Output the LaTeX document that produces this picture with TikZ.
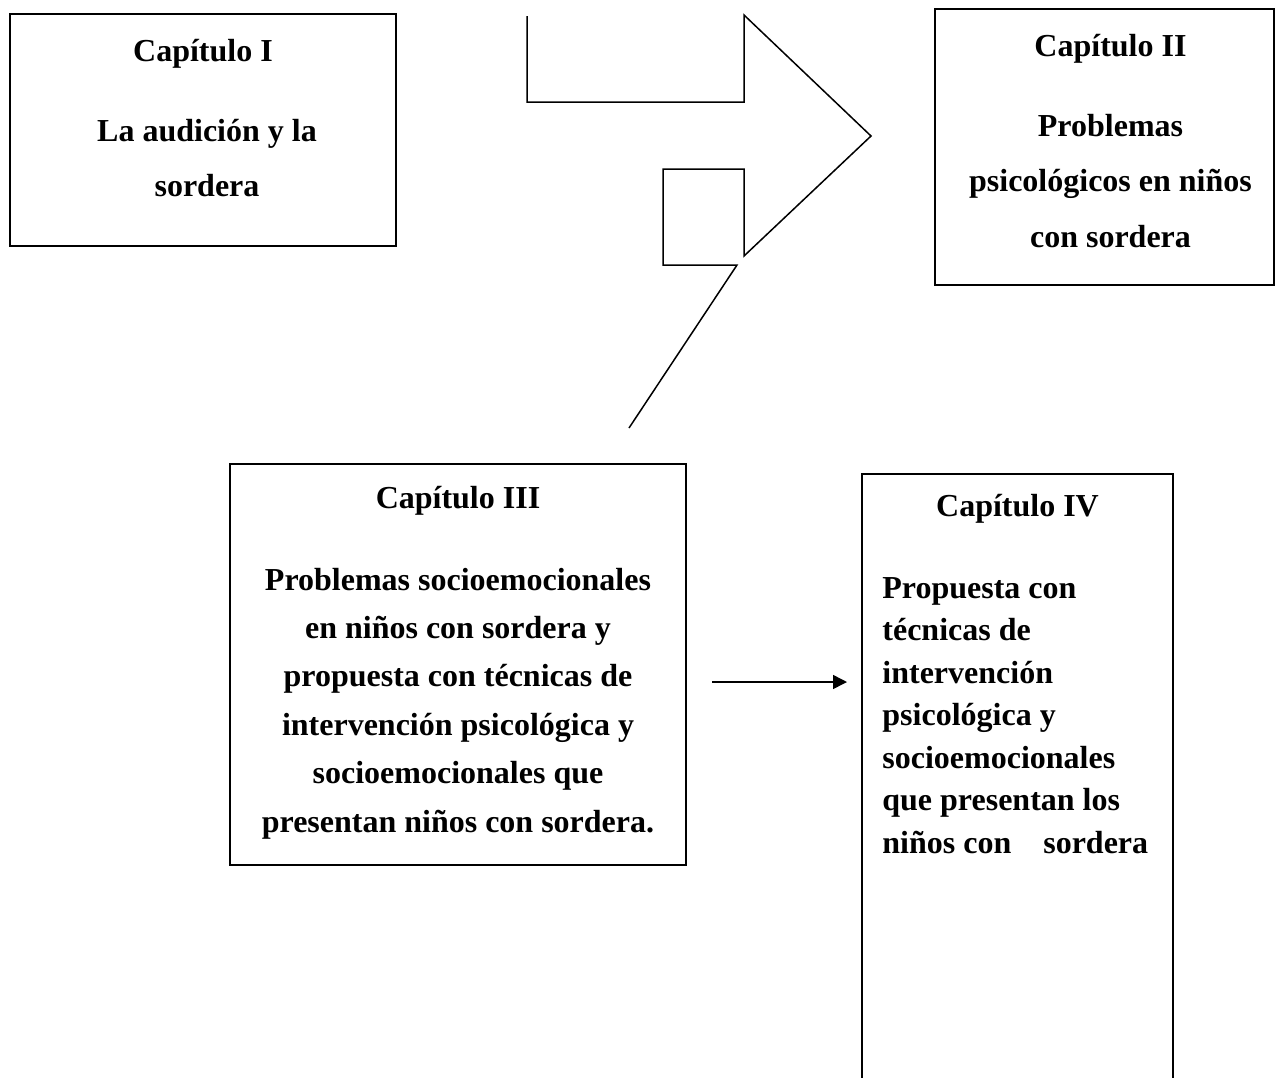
\documentclass[tikz,border=0pt]{standalone}
\usepackage{fontspec}
\setmainfont{Liberation Serif}
\usetikzlibrary{arrows.meta}
\tikzset{
    chap-box/.style = {draw, line width=1pt, rectangle, inner sep=0pt},
    chap-title/.style = {font=\bfseries\fontsize{16}{19}\selectfont, anchor=base, inner sep=0pt},
    chap-text/.style = {font=\bfseries\fontsize{16}{#1}\selectfont, align=center, anchor=base, inner sep=0pt},
    bent-arrow/.style = {line width=0.75pt, line join=miter},
    flow/.style = {line width=0.75pt, -{Triangle[length=7pt,width=7pt]}},
}

\begin{document}
\begin{tikzpicture}[x=0.5pt, y=-0.5pt]
\clip (0,0) rectangle (1275,1077);

% chapter frames
\node [chap-box, minimum width=193pt, minimum height=116pt] (capI) at (203,130) {};
\node [chap-box, minimum width=169.5pt, minimum height=138pt] (capII) at (1104.5,147) {};
\node [chap-box, minimum width=228pt, minimum height=200.5pt] (capIII) at (458,664.5) {};
\node [chap-box, minimum width=155.5pt, minimum height=323pt] (capIV) at (1017.5,797) {};

% titles
\node[chap-title] (tI) at ([yshift=-24pt]capI.north) {Capítulo I};
\node[chap-title] (tII) at ([xshift=3pt, yshift=-24pt]capII.north) {Capítulo II};
\node[chap-title] (tIII) at ([yshift=-22.5pt]capIII.north) {Capítulo III};
\node[chap-title] (tIV) at ([yshift=-21.5pt]capIV.north) {Capítulo IV};

% texts (anchored at the baseline of their last line)
\node[chap-text=27.5pt] (bI) at ([xshift=2pt, yshift=-91.5pt]capI.north) {La audición y la\\sordera};
\node[chap-text=27.7pt] (bII) at ([xshift=3pt, yshift=-119.5pt]capII.north) {Problemas\\psicológicos en niños\\con sordera};
\node[chap-text=24.2pt] (bIII) at ([yshift=-184.5pt]capIII.north) {Problemas socioemocionales\\en niños con sordera y\\propuesta con técnicas de\\intervención psicológica y\\socioemocionales que\\presentan niños con sordera.};
\node[chap-text=21.25pt, align=left, anchor=base west] (bIV) at ([xshift=10.5pt, yshift=-190pt]capIV.north west) {Propuesta con\\técnicas de\\intervención\\psicológica y\\socioemocionales\\que presentan los\\niños con\ \ \ \ sordera};

% bent arrow shape
\draw[bent-arrow] (527,16) -- (527,102) -- (744,102) -- (744,15) -- (871,136) -- (744,256)
    -- (744,169) -- (663,169) -- (663,265) -- (737,265) -- (629,428);

% arrow III -> IV
\draw[flow, shorten <=12.5pt, shorten >=7pt] ([yshift=-8.75pt]capIII.east) -- ([yshift=-8.75pt]capIII.east -| capIV.west);
\end{tikzpicture}
\end{document}
